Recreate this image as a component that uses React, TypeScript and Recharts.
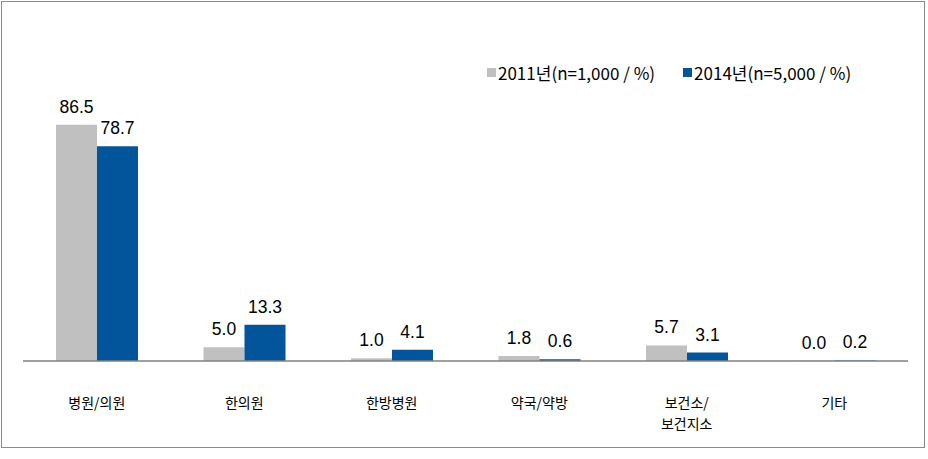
import React from "react";
import { BarChart, Bar, XAxis, YAxis, LabelList } from "recharts";

const categories = ["병원/의원", "한의원", "한방병원", "약국/약방", "보건소/\n보건지소", "기타"];
const values2011 = [86.5, 5.0, 1.0, 1.8, 5.7, 0.0];
const values2014 = [78.7, 13.3, 4.1, 0.6, 3.1, 0.2];
const seriesNames = ["2011년(n=1,000 / %)", "2014년(n=5,000 / %)"];
const colors = ["#c0c0c0", "#03559b"];

const data = categories.map((name, i) => ({
     name,
     y2011: values2011[i],
     y2014: values2014[i],
}));

const NUM_FONT = "'Liberation Sans', Arial, sans-serif";
const KR_FONT = "'Noto Sans CJK KR', 'Noto Sans', sans-serif";

function CategoryTick(props: any) {
     const { x, y, payload } = props;
     const lines = String(payload.value).split("\n");
     return (
          <g transform={`translate(${x},${y})`}>
               {lines.map((line, i) => (
                    <text
                         key={i}
                         x={0}
                         y={39 + i * 21}
                         textAnchor="middle"
                         fontSize={14}
                         fontFamily={KR_FONT}
                         fill="#000"
                    >
                         {line}
                    </text>
               ))}
          </g>
     );
}

// numeric label drawn above each bar, also for zero values
function TopLabel(props: any) {
     const { x, y, width, value } = props;
     return (
          <text
               x={x + width / 2}
               y={y - 12}
               textAnchor="middle"
               fontSize={17.5}
               fontFamily={NUM_FONT}
               fill="#000"
          >
               {Number(value).toFixed(1)}
          </text>
     );
}

export default function App() {
     return (
          <div style={{ position: "absolute", left: 0, top: 0, width: 928, height: 459, background: "#fff" }}>
               <div
                    style={{
                         position: "absolute",
                         left: 1,
                         top: 1,
                         width: 924,
                         height: 447,
                         border: "1px solid #8a8a8a",
                         boxSizing: "border-box",
                    }}
               />
               <div
                    style={{
                         position: "absolute",
                         left: 487,
                         top: 60,
                         display: "flex",
                         alignItems: "center",
                         fontFamily: KR_FONT,
                         fontSize: 17,
                         color: "#000",
                         zIndex: 2,
                    }}
               >
                    {seriesNames.map((s, i) => (
                         <div key={s} style={{ display: "flex", alignItems: "center", marginRight: i === 0 ? 28 : 0 }}>
                              <div style={{ width: 9, height: 9, background: colors[i], marginRight: 2 }} />
                              <span>{s}</span>
                         </div>
                    ))}
               </div>
               <BarChart
                    width={928}
                    height={459}
                    data={data}
                    margin={{ top: 88, right: 20, bottom: 0, left: 23 }}
                    barGap={0}
                    barSize={41}
               >
                    <XAxis
                         dataKey="name"
                         axisLine={{ stroke: "#808080", strokeWidth: 1.5 }}
                         tickLine={false}
                         tick={<CategoryTick />}
                         interval={0}
                         height={98}
                    />
                    <YAxis hide domain={[0, 100]} />
                    <Bar dataKey="y2011" name={seriesNames[0]} fill={colors[0]} minPointSize={0.3} isAnimationActive={false}>
                         <LabelList dataKey="y2011" content={<TopLabel />} />
                    </Bar>
                    <Bar dataKey="y2014" name={seriesNames[1]} fill={colors[1]} minPointSize={0.3} isAnimationActive={false}>
                         <LabelList dataKey="y2014" content={<TopLabel />} />
                    </Bar>
               </BarChart>
          </div>
     );
}
